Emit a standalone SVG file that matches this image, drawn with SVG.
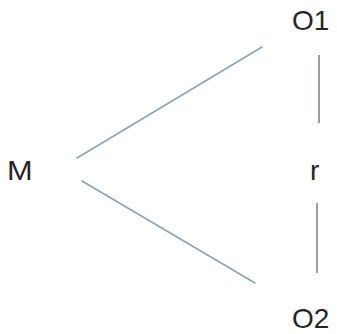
<svg xmlns="http://www.w3.org/2000/svg" width="337" height="334" viewBox="0 0 337 334">
<style>
text{font-family:"Liberation Sans",Arial,sans-serif;fill:#262626;font-size:28px}
.d{stroke:#8aa3b7;stroke-width:1.6;fill:none;stroke-linecap:round}
.v{stroke:#7c8794;stroke-width:1.6;fill:none}
</style>
<rect width="337" height="334" fill="#fff"/>
<g id="connectors">
<line class="d" x1="77" y1="158" x2="262" y2="47"/>
<line class="d" x1="82" y1="181" x2="255" y2="283"/>
<line class="v" x1="319" y1="55" x2="319" y2="123"/>
<line class="v" x1="317" y1="203" x2="317" y2="273"/>
</g>
<g id="M"><text x="7" y="180" font-size="30" transform="translate(7 0) scale(1.1 1) translate(-7 0)">M</text></g>
<g id="O1"><text x="292" y="30">O1</text></g>
<g id="r"><text x="310" y="180" font-size="36">r</text></g>
<g id="O2"><text x="292" y="328">O2</text></g>
</svg>
